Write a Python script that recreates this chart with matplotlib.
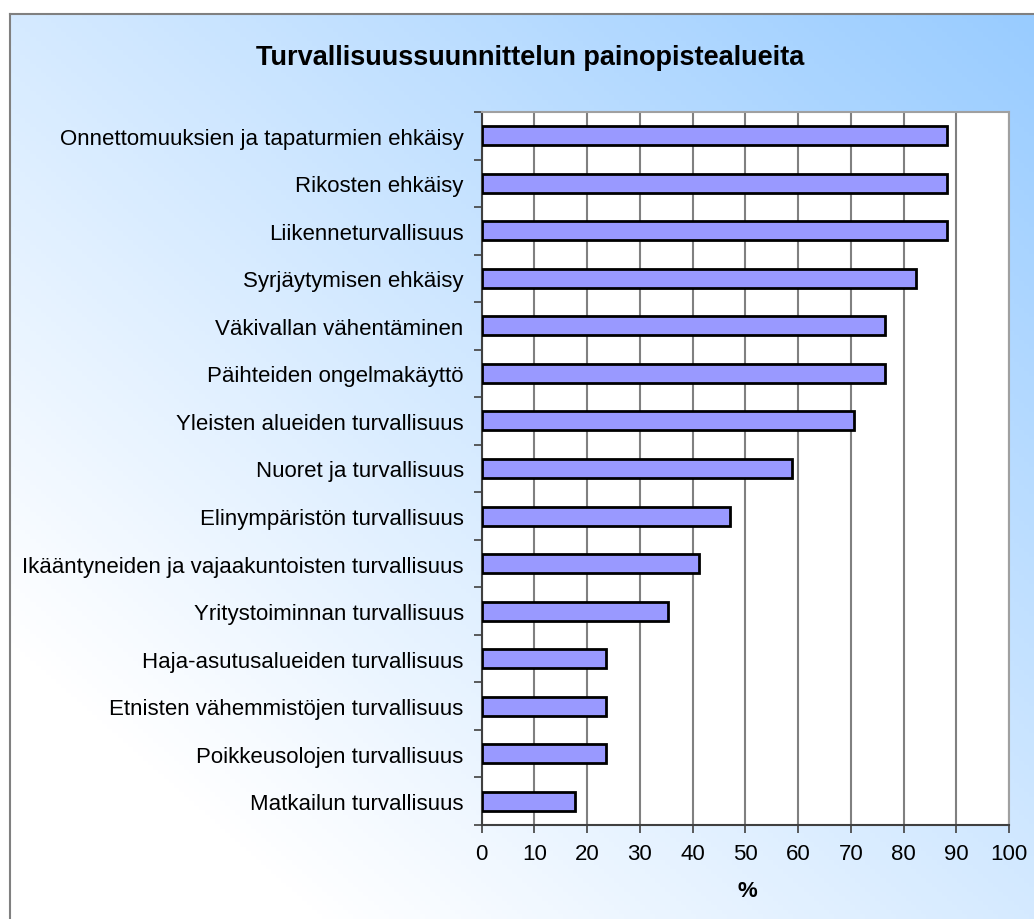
import matplotlib
matplotlib.use("Agg")
import matplotlib.pyplot as plt
import numpy as np
from matplotlib.colors import LinearSegmentedColormap

categories = [
    "Onnettomuuksien ja tapaturmien ehkäisy",
    "Rikosten ehkäisy",
    "Liikenneturvallisuus",
    "Syrjäytymisen ehkäisy",
    "Väkivallan vähentäminen",
    "Päihteiden ongelmakäyttö",
    "Yleisten alueiden turvallisuus",
    "Nuoret ja turvallisuus",
    "Elinympäristön turvallisuus",
    "Ikääntyneiden ja vajaakuntoisten turvallisuus",
    "Yritystoiminnan turvallisuus",
    "Haja-asutusalueiden turvallisuus",
    "Etnisten vähemmistöjen turvallisuus",
    "Poikkeusolojen turvallisuus",
    "Matkailun turvallisuus",
]
values = [88.2, 88.2, 88.2, 82.4, 76.5, 76.5, 70.6, 58.8, 47.1, 41.2, 35.3, 23.5, 23.5, 23.5, 17.6]
xticks = [0, 10, 20, 30, 40, 50, 60, 70, 80, 90, 100]
title = "Turvallisuussuunnittelun painopistealueita"
xlabel = "%"

plt.rcParams['font.family'] = ['Liberation Sans', 'DejaVu Sans']

W, H = 1034, 920
fig = plt.figure(figsize=(W / 100, H / 100), dpi=100)
fig.patch.set_facecolor('white')

# gradient background frame
bg = fig.add_axes([10 / W, 0, 1 - 10 / W, 1 - 15 / H])
bg.set_zorder(-10)
nx, ny = 200, 200
gx = np.linspace(0, 1, nx)
gy = np.linspace(0, 1, ny)
GX, GY = np.meshgrid(gx, gy)
T = (GX + GY) / 2.0
cmap = LinearSegmentedColormap.from_list(
    "bgc", [(0.0, "#ffffff"), (0.15, "#ffffff"), (1.0, "#99ccff")])
bg.imshow(T, origin='lower', cmap=cmap, extent=[0, 1, 0, 1], aspect='auto', vmin=0.0, vmax=1.0)
bg.set_xlim(0, 1)
bg.set_ylim(0, 1)
bg.set_xticks([])
bg.set_yticks([])
for s in ['right', 'bottom']:
    bg.spines[s].set_visible(False)
for s in ['left', 'top']:
    bg.spines[s].set_color('#808080')
    bg.spines[s].set_linewidth(1.5)

ax = fig.add_axes([481.7 / W, 1 - 826 / H, (1009 - 481.7) / W, (826 - 113) / H])
ax.set_facecolor('white')
y = np.arange(len(categories))
ax.barh(y, values, height=0.4, color='#9999ff', edgecolor='black', linewidth=2, zorder=3)
ax.set_xlim(0, 100)
ax.set_ylim(len(categories) - 0.5, -0.5)
ax.set_xticks(xticks)
ax.set_xticklabels([str(t) for t in xticks], fontsize=16)
ax.xaxis.grid(True, color='#808080', linewidth=1.5, zorder=0)
ax.set_axisbelow(True)

ax.set_yticks(y)
ax.set_yticklabels(categories, fontsize=16)
ax.tick_params(axis='y', which='major', length=0, pad=13)
ax.set_yticks(np.arange(-0.5, len(categories) + 0.5, 1), minor=True)
ax.tick_params(axis='y', which='minor', length=6, width=1.2, color='#404040')
ax.tick_params(axis='x', which='major', length=6, width=1.2, color='#404040', pad=7)

for s in ['top', 'right']:
    ax.spines[s].set_color('#a0a0a0')
    ax.spines[s].set_linewidth(1.5)
for s in ['left', 'bottom']:
    ax.spines[s].set_color('#404040')
    ax.spines[s].set_linewidth(1.5)

fig.text(530 / W, 1 - 58 / H, title, ha='center', va='center',
         fontsize=19.5, fontweight='bold')
fig.text(747 / W, 1 - 892 / H, xlabel, ha='center', va='center',
         fontsize=16, fontweight='bold')

fig.savefig("out.png", dpi=100)
